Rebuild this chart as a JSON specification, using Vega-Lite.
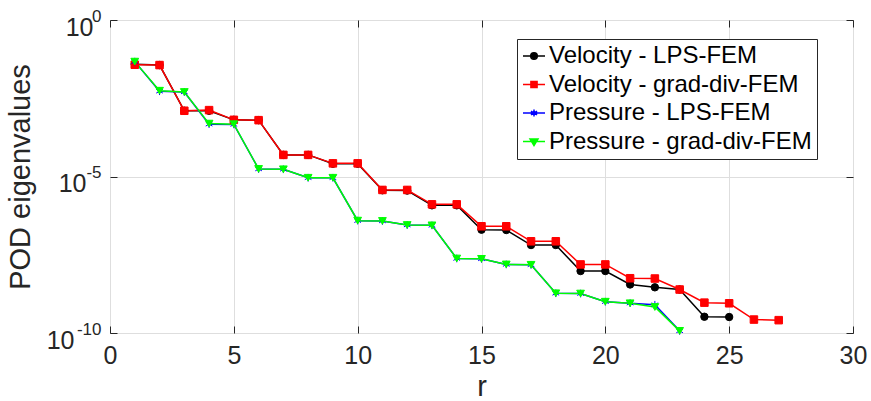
{
 "$schema": "https://vega.github.io/schema/vega-lite/v6.json",
 "width": 743, "height": 313,
 "autosize": {"type": "none"},
 "padding": {"left": 110, "top": 20, "right": 18, "bottom": 68},
 "background": "white",
 "config": {
  "view": {"stroke": "#262626", "strokeWidth": 1},
  "font": "Liberation Sans",
  "axis": {"labelFont": "Liberation Sans", "titleFont": "Liberation Sans", "labelColor": "#262626", "titleColor": "#262626", "tickColor": "#262626", "gridColor": "#dedede", "gridOpacity": 1, "domain": false, "titleFontWeight": "normal", "labelFontSize": 25, "titleFontSize": 29, "tickSize": -7, "labelFlush": false, "labelOverlap": false, "labelBound": false},
  "legend": {"labelFont": "Liberation Sans", "labelFontSize": 24, "labelColor": "black", "strokeColor": "#262626", "fillColor": "white", "padding": 5, "rowPadding": 4.5, "symbolSize": 484, "symbolStrokeWidth": 1.5, "symbolOpacity": 1, "labelOffset": 3, "labelLimit": 400}
 },
 "data": {"values": [
  {"series": "Velocity - LPS-FEM", "r": 1, "value": 3.89e-2},
  {"series": "Velocity - LPS-FEM", "r": 2, "value": 3.63e-2},
  {"series": "Velocity - LPS-FEM", "r": 3, "value": 1.26e-3},
  {"series": "Velocity - LPS-FEM", "r": 4, "value": 1.26e-3},
  {"series": "Velocity - LPS-FEM", "r": 5, "value": 6.46e-4},
  {"series": "Velocity - LPS-FEM", "r": 6, "value": 6.31e-4},
  {"series": "Velocity - LPS-FEM", "r": 7, "value": 4.90e-5},
  {"series": "Velocity - LPS-FEM", "r": 8, "value": 4.90e-5},
  {"series": "Velocity - LPS-FEM", "r": 9, "value": 2.57e-5},
  {"series": "Velocity - LPS-FEM", "r": 10, "value": 2.57e-5},
  {"series": "Velocity - LPS-FEM", "r": 11, "value": 3.63e-6},
  {"series": "Velocity - LPS-FEM", "r": 12, "value": 3.55e-6},
  {"series": "Velocity - LPS-FEM", "r": 13, "value": 1.20e-6},
  {"series": "Velocity - LPS-FEM", "r": 14, "value": 1.20e-6},
  {"series": "Velocity - LPS-FEM", "r": 15, "value": 2.00e-7},
  {"series": "Velocity - LPS-FEM", "r": 16, "value": 1.95e-7},
  {"series": "Velocity - LPS-FEM", "r": 17, "value": 6.46e-8},
  {"series": "Velocity - LPS-FEM", "r": 18, "value": 6.46e-8},
  {"series": "Velocity - LPS-FEM", "r": 19, "value": 9.55e-9},
  {"series": "Velocity - LPS-FEM", "r": 20, "value": 9.55e-9},
  {"series": "Velocity - LPS-FEM", "r": 21, "value": 3.55e-9},
  {"series": "Velocity - LPS-FEM", "r": 22, "value": 2.88e-9},
  {"series": "Velocity - LPS-FEM", "r": 23, "value": 2.45e-9},
  {"series": "Velocity - LPS-FEM", "r": 24, "value": 3.31e-10},
  {"series": "Velocity - LPS-FEM", "r": 25, "value": 3.24e-10},
  {"series": "Velocity - grad-div-FEM", "r": 1, "value": 3.72e-2},
  {"series": "Velocity - grad-div-FEM", "r": 2, "value": 3.63e-2},
  {"series": "Velocity - grad-div-FEM", "r": 3, "value": 1.26e-3},
  {"series": "Velocity - grad-div-FEM", "r": 4, "value": 1.32e-3},
  {"series": "Velocity - grad-div-FEM", "r": 5, "value": 6.46e-4},
  {"series": "Velocity - grad-div-FEM", "r": 6, "value": 6.31e-4},
  {"series": "Velocity - grad-div-FEM", "r": 7, "value": 4.90e-5},
  {"series": "Velocity - grad-div-FEM", "r": 8, "value": 4.90e-5},
  {"series": "Velocity - grad-div-FEM", "r": 9, "value": 2.63e-5},
  {"series": "Velocity - grad-div-FEM", "r": 10, "value": 2.63e-5},
  {"series": "Velocity - grad-div-FEM", "r": 11, "value": 3.72e-6},
  {"series": "Velocity - grad-div-FEM", "r": 12, "value": 3.72e-6},
  {"series": "Velocity - grad-div-FEM", "r": 13, "value": 1.29e-6},
  {"series": "Velocity - grad-div-FEM", "r": 14, "value": 1.29e-6},
  {"series": "Velocity - grad-div-FEM", "r": 15, "value": 2.57e-7},
  {"series": "Velocity - grad-div-FEM", "r": 16, "value": 2.57e-7},
  {"series": "Velocity - grad-div-FEM", "r": 17, "value": 8.51e-8},
  {"series": "Velocity - grad-div-FEM", "r": 18, "value": 8.51e-8},
  {"series": "Velocity - grad-div-FEM", "r": 19, "value": 1.55e-8},
  {"series": "Velocity - grad-div-FEM", "r": 20, "value": 1.55e-8},
  {"series": "Velocity - grad-div-FEM", "r": 21, "value": 5.62e-9},
  {"series": "Velocity - grad-div-FEM", "r": 22, "value": 5.50e-9},
  {"series": "Velocity - grad-div-FEM", "r": 23, "value": 2.45e-9},
  {"series": "Velocity - grad-div-FEM", "r": 24, "value": 9.33e-10},
  {"series": "Velocity - grad-div-FEM", "r": 25, "value": 8.91e-10},
  {"series": "Velocity - grad-div-FEM", "r": 26, "value": 2.69e-10},
  {"series": "Velocity - grad-div-FEM", "r": 27, "value": 2.57e-10},
  {"series": "Pressure - LPS-FEM", "r": 1, "value": 4.68e-2},
  {"series": "Pressure - LPS-FEM", "r": 2, "value": 5.30e-3},
  {"series": "Pressure - LPS-FEM", "r": 3, "value": 5.01e-3},
  {"series": "Pressure - LPS-FEM", "r": 4, "value": 4.70e-4},
  {"series": "Pressure - LPS-FEM", "r": 5, "value": 4.60e-4},
  {"series": "Pressure - LPS-FEM", "r": 6, "value": 1.74e-5},
  {"series": "Pressure - LPS-FEM", "r": 7, "value": 1.70e-5},
  {"series": "Pressure - LPS-FEM", "r": 8, "value": 9.12e-6},
  {"series": "Pressure - LPS-FEM", "r": 9, "value": 9.12e-6},
  {"series": "Pressure - LPS-FEM", "r": 10, "value": 3.89e-7},
  {"series": "Pressure - LPS-FEM", "r": 11, "value": 3.80e-7},
  {"series": "Pressure - LPS-FEM", "r": 12, "value": 2.82e-7},
  {"series": "Pressure - LPS-FEM", "r": 13, "value": 2.75e-7},
  {"series": "Pressure - LPS-FEM", "r": 14, "value": 2.40e-8},
  {"series": "Pressure - LPS-FEM", "r": 15, "value": 2.34e-8},
  {"series": "Pressure - LPS-FEM", "r": 16, "value": 1.55e-8},
  {"series": "Pressure - LPS-FEM", "r": 17, "value": 1.51e-8},
  {"series": "Pressure - LPS-FEM", "r": 18, "value": 1.86e-9},
  {"series": "Pressure - LPS-FEM", "r": 19, "value": 1.82e-9},
  {"series": "Pressure - LPS-FEM", "r": 20, "value": 1.00e-9},
  {"series": "Pressure - LPS-FEM", "r": 21, "value": 9.00e-10},
  {"series": "Pressure - LPS-FEM", "r": 22, "value": 8.00e-10},
  {"series": "Pressure - LPS-FEM", "r": 23, "value": 1.17e-10},
  {"series": "Pressure - grad-div-FEM", "r": 1, "value": 4.68e-2},
  {"series": "Pressure - grad-div-FEM", "r": 2, "value": 5.50e-3},
  {"series": "Pressure - grad-div-FEM", "r": 3, "value": 5.01e-3},
  {"series": "Pressure - grad-div-FEM", "r": 4, "value": 4.90e-4},
  {"series": "Pressure - grad-div-FEM", "r": 5, "value": 4.68e-4},
  {"series": "Pressure - grad-div-FEM", "r": 6, "value": 1.74e-5},
  {"series": "Pressure - grad-div-FEM", "r": 7, "value": 1.70e-5},
  {"series": "Pressure - grad-div-FEM", "r": 8, "value": 9.12e-6},
  {"series": "Pressure - grad-div-FEM", "r": 9, "value": 9.12e-6},
  {"series": "Pressure - grad-div-FEM", "r": 10, "value": 3.89e-7},
  {"series": "Pressure - grad-div-FEM", "r": 11, "value": 3.80e-7},
  {"series": "Pressure - grad-div-FEM", "r": 12, "value": 2.82e-7},
  {"series": "Pressure - grad-div-FEM", "r": 13, "value": 2.75e-7},
  {"series": "Pressure - grad-div-FEM", "r": 14, "value": 2.40e-8},
  {"series": "Pressure - grad-div-FEM", "r": 15, "value": 2.34e-8},
  {"series": "Pressure - grad-div-FEM", "r": 16, "value": 1.55e-8},
  {"series": "Pressure - grad-div-FEM", "r": 17, "value": 1.51e-8},
  {"series": "Pressure - grad-div-FEM", "r": 18, "value": 1.86e-9},
  {"series": "Pressure - grad-div-FEM", "r": 19, "value": 1.82e-9},
  {"series": "Pressure - grad-div-FEM", "r": 20, "value": 1.00e-9},
  {"series": "Pressure - grad-div-FEM", "r": 21, "value": 8.91e-10},
  {"series": "Pressure - grad-div-FEM", "r": 22, "value": 6.76e-10},
  {"series": "Pressure - grad-div-FEM", "r": 23, "value": 1.17e-10}
 ]},
 "layer": [
  {
   "mark": {"type": "line", "strokeWidth": 1.5},
   "encoding": {
    "x": {"field": "r", "type": "quantitative", "scale": {"domain": [0, 30], "nice": false},
          "axis": {"values": [0, 5, 10, 15, 20, 25, 30], "grid": true, "title": "r", "labelPadding": 17, "titlePadding": 4}},
    "y": {"field": "value", "type": "quantitative", "scale": {"type": "log", "domain": [1e-10, 1], "nice": false},
          "axis": {"values": [1e-10, 1e-5, 1], "grid": true, "title": "POD eigenvalues", "labelOffset": 7, "titlePadding": 11,
                   "labelPadding": {"condition": [{"test": "datum.value > 0.5", "value": 24}, {"test": "datum.value > 1e-7", "value": 31}], "value": 43},
                   "labelExpr": "'10'"}},
    "color": {"field": "series", "type": "nominal",
              "scale": {"domain": ["Velocity - LPS-FEM", "Velocity - grad-div-FEM", "Pressure - LPS-FEM", "Pressure - grad-div-FEM"], "range": ["#000000", "#ff0000", "#0000ff", "#00ff00"]},
              "legend": null}
   }
  },
  {
   "mark": {"type": "point", "opacity": 1, "strokeWidth": 1},
   "encoding": {
    "x": {"field": "r", "type": "quantitative", "axis": null},
    "y": {"field": "value", "type": "quantitative", "axis": null},
    "fill": {"field": "series", "type": "nominal",
             "scale": {"domain": ["Velocity - LPS-FEM", "Velocity - grad-div-FEM", "Pressure - LPS-FEM", "Pressure - grad-div-FEM"], "range": ["#000000", "#ff0000", "#0000ff", "#00ff00"]},
             "legend": null},
    "stroke": {"field": "series", "type": "nominal",
             "scale": {"domain": ["Velocity - LPS-FEM", "Velocity - grad-div-FEM", "Pressure - LPS-FEM", "Pressure - grad-div-FEM"], "range": ["#000000", "#ff0000", "#0000ff", "#00ff00"]},
             "legend": null},
    "shape": {"field": "series", "type": "nominal",
             "scale": {"domain": ["Velocity - LPS-FEM", "Velocity - grad-div-FEM", "Pressure - LPS-FEM", "Pressure - grad-div-FEM"], "range": ["circle", "square", "M0,-1L0,1M-0.87,-0.5L0.87,0.5M-0.87,0.5L0.87,-0.5", "triangle-down"]},
             "legend": null},
    "size": {"field": "series", "type": "ordinal",
             "scale": {"domain": ["Velocity - LPS-FEM", "Velocity - grad-div-FEM", "Pressure - LPS-FEM", "Pressure - grad-div-FEM"], "range": [55, 60, 60, 85]},
             "legend": null}
   }
  },
  {
   "mark": {"type": "point", "opacity": 0},
   "encoding": {
    "x": {"field": "r", "type": "quantitative", "axis": null},
    "y": {"field": "value", "type": "quantitative", "axis": null},
    "fill": {"field": "series", "type": "nominal",
             "scale": {"domain": ["Velocity - LPS-FEM", "Velocity - grad-div-FEM", "Pressure - LPS-FEM", "Pressure - grad-div-FEM"], "range": ["#000000", "#ff0000", "#0000ff", "#00ff00"]},
             "legend": {"title": null, "orient": "none", "legendX": 407, "legendY": 19}},
    "stroke": {"field": "series", "type": "nominal",
             "scale": {"domain": ["Velocity - LPS-FEM", "Velocity - grad-div-FEM", "Pressure - LPS-FEM", "Pressure - grad-div-FEM"], "range": ["#000000", "#ff0000", "#0000ff", "#00ff00"]},
             "legend": {"title": null, "orient": "none", "legendX": 407, "legendY": 19}},
    "shape": {"field": "series", "type": "nominal",
             "scale": {"domain": ["Velocity - LPS-FEM", "Velocity - grad-div-FEM", "Pressure - LPS-FEM", "Pressure - grad-div-FEM"],
                       "range": ["M-1,0L1,0M0.3,0A0.3,0.3,0,1,1,-0.3,0A0.3,0.3,0,1,1,0.3,0Z",
                                 "M-1,0L1,0M-0.28,-0.28L0.28,-0.28L0.28,0.28L-0.28,0.28Z",
                                 "M-1,0L1,0M0,-0.32L0,0.32M-0.28,-0.16L0.28,0.16M-0.28,0.16L0.28,-0.16",
                                 "M-1,0L1,0M-0.36,-0.22L0.36,-0.22L0,0.36Z"]},
             "legend": {"title": null, "orient": "none", "legendX": 407, "legendY": 19}}
   }
  },
  {
   "mark": {"type": "point", "opacity": 0},
   "encoding": {
    "x": {"field": "r", "type": "quantitative", "axis": {"orient": "top", "labels": false, "grid": false, "title": null, "values": [0, 5, 10, 15, 20, 25, 30]}},
    "y": {"field": "value", "type": "quantitative", "axis": {"orient": "right", "labels": false, "grid": false, "title": null, "values": [1e-10, 1e-5, 1]}}
   }
  },
  {
   "mark": {"type": "point", "opacity": 0},
   "encoding": {
    "x": {"field": "r", "type": "quantitative", "axis": null},
    "y": {"field": "value", "type": "quantitative", "axis": {"orient": "left", "ticks": false, "grid": false, "title": null, "values": [1e-10, 1e-5, 1], "labelFontSize": 17, "labelPadding": 9, "labelOffset": -4,
          "labelExpr": "datum.value > 0.5 ? '0' : (datum.value > 1e-7 ? '-5' : '-10')"}}
   }
  }
 ],
 "resolve": {
  "axis": {"x": "independent", "y": "independent"},
  "scale": {"fill": "independent", "stroke": "independent", "shape": "independent", "size": "independent"}
 }
}
